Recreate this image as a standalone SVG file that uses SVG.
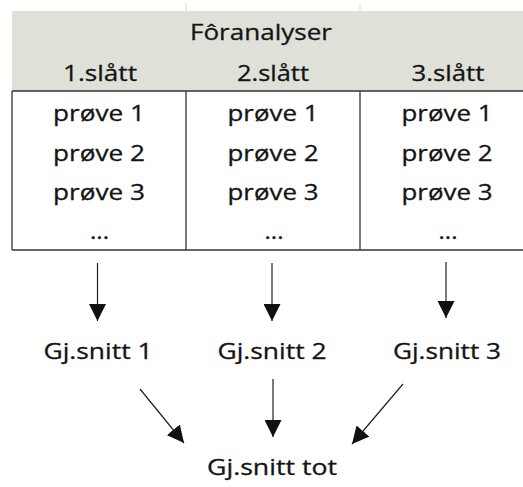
<svg xmlns="http://www.w3.org/2000/svg" width="523" height="487" viewBox="0 0 523 487">
<defs>
<style>
.t{font-family:"Open Sans","Noto Sans","Liberation Sans",sans-serif;font-size:22px;fill:#141414;stroke:#141414;stroke-width:0.3;text-anchor:middle}
.grid{stroke:#333;stroke-width:1.3;fill:none}
.faint{stroke:#e6e1c4;stroke-width:1.2}
.c{stroke:#222;stroke-width:1.2;fill:none}
</style>
<marker id="ah" markerUnits="userSpaceOnUse" markerWidth="17" markerHeight="17" refX="16" refY="8" orient="auto" viewBox="0 0 16 16">
<path d="M0,0 L16,8 L0,16 z" fill="#111"/>
</marker>
</defs>
<rect width="523" height="487" fill="#fff"/>
<g id="table">
<line class="faint" x1="186" y1="3" x2="186" y2="11"/>
<line class="faint" x1="360" y1="3" x2="360" y2="11"/>
<rect x="12" y="11" width="511" height="80" fill="#dfe1d8"/>
<line class="grid" x1="12" y1="91" x2="523" y2="91"/>
<line class="grid" x1="12" y1="250" x2="523" y2="250"/>
<line class="grid" x1="12" y1="91" x2="12" y2="250"/>
<line class="grid" x1="186" y1="91" x2="186" y2="250"/>
<line class="grid" x1="360" y1="91" x2="360" y2="250"/>
<text class="t" x="261" y="40" textLength="142" lengthAdjust="spacingAndGlyphs">Fôranalyser</text>
<text class="t" x="100" y="81" textLength="74" lengthAdjust="spacingAndGlyphs">1.slått</text>
<text class="t" x="273" y="81" textLength="72" lengthAdjust="spacingAndGlyphs">2.slått</text>
<text class="t" x="448" y="81" textLength="73" lengthAdjust="spacingAndGlyphs">3.slått</text>
<text class="t" x="99" y="121" textLength="92" lengthAdjust="spacingAndGlyphs">prøve 1</text>
<text class="t" x="99" y="161" textLength="92" lengthAdjust="spacingAndGlyphs">prøve 2</text>
<text class="t" x="99" y="200" textLength="92" lengthAdjust="spacingAndGlyphs">prøve 3</text>
<text class="t" x="99.5" y="239" textLength="19" lengthAdjust="spacingAndGlyphs">...</text>
<text class="t" x="273" y="121" textLength="91" lengthAdjust="spacingAndGlyphs">prøve 1</text>
<text class="t" x="273" y="161" textLength="91" lengthAdjust="spacingAndGlyphs">prøve 2</text>
<text class="t" x="273" y="200" textLength="91" lengthAdjust="spacingAndGlyphs">prøve 3</text>
<text class="t" x="274" y="239" textLength="19" lengthAdjust="spacingAndGlyphs">...</text>
<text class="t" x="447" y="121" textLength="91" lengthAdjust="spacingAndGlyphs">prøve 1</text>
<text class="t" x="447" y="161" textLength="91" lengthAdjust="spacingAndGlyphs">prøve 2</text>
<text class="t" x="447" y="200" textLength="91" lengthAdjust="spacingAndGlyphs">prøve 3</text>
<text class="t" x="448" y="239" textLength="19" lengthAdjust="spacingAndGlyphs">...</text>
</g>
<g id="avg1"><text class="t" x="98" y="359" textLength="109" lengthAdjust="spacingAndGlyphs">Gj.snitt 1</text></g>
<g id="avg2"><text class="t" x="272" y="359" textLength="109" lengthAdjust="spacingAndGlyphs">Gj.snitt 2</text></g>
<g id="avg3"><text class="t" x="447" y="359" textLength="108" lengthAdjust="spacingAndGlyphs">Gj.snitt 3</text></g>
<g id="avgtot"><text class="t" x="272" y="475" textLength="130" lengthAdjust="spacingAndGlyphs">Gj.snitt tot</text></g>
<g id="connectors">
<line class="c" x1="97.5" y1="263" x2="97.5" y2="321" marker-end="url(#ah)"/>
<line class="c" x1="272" y1="263" x2="272" y2="321" marker-end="url(#ah)"/>
<line class="c" x1="446" y1="262" x2="446" y2="318" marker-end="url(#ah)"/>
<line class="c" x1="140" y1="389" x2="184" y2="443" marker-end="url(#ah)"/>
<line class="c" x1="273" y1="379" x2="273" y2="437" marker-end="url(#ah)"/>
<line class="c" x1="403" y1="384" x2="352" y2="444" marker-end="url(#ah)"/>
</g>
</svg>
